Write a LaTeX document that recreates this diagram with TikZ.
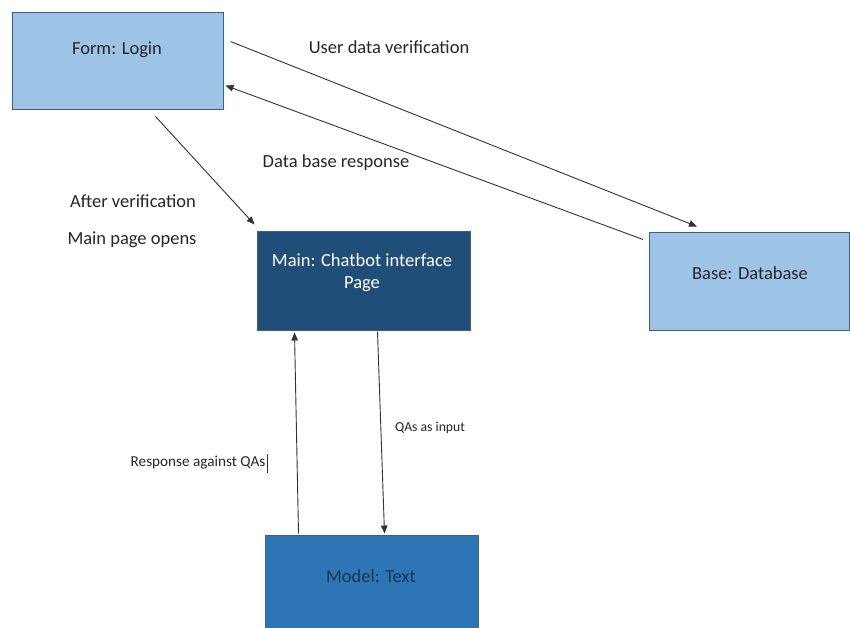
\documentclass[tikz,border=0pt]{standalone}
\usepackage{fontspec}
\setmainfont{Carlito}
\usetikzlibrary{arrows.meta,calc}
\definecolor{lightbox}{HTML}{9DC3E6}
\definecolor{darkbox}{HTML}{1F4E79}
\definecolor{midbox}{HTML}{2E75B6}
\definecolor{edgecol}{HTML}{3F5F7F}
\definecolor{txt}{HTML}{262626}
\begin{document}
\begin{tikzpicture}[x=1pt,y=-1pt,
  box/.style={draw=edgecol, line width=1pt, rectangle, inner sep=0pt},
  btext/.style={font=\fontsize{18.5}{22}\selectfont, inner sep=0pt, align=center},
  lbl/.style={font=\fontsize{18.5}{22}\selectfont, text=txt, inner sep=0pt},
  qlbl/.style={font=\fontsize{13.7}{16}\selectfont, text=txt, inner sep=0pt},
  rlbl/.style={font=\fontsize{15.2}{18}\selectfont, text=txt, inner sep=0pt},
  flow/.style={draw=black!80, line width=0.9pt, -{Triangle[length=8pt,width=6.5pt]}}]
\useasboundingbox (0,0) rectangle (850,627);
\clip (0,0) rectangle (850,627);
% boxes
\node[box, fill=lightbox, minimum width=211pt, minimum height=97pt] (login) at (117.5,60.5) {};
\node[box, fill=darkbox, minimum width=213pt, minimum height=99pt] (main) at (363.5,280.5) {};
\node[box, fill=lightbox, minimum width=200pt, minimum height=98pt] (base) at (749.5,281) {};
\node[box, fill=midbox, minimum width=213pt, minimum height=120pt] (model) at (371.5,595) {};
% box texts
\node[btext, text=txt] (logintxt) at (117,50) {Form: Login};
\node[btext, text=white] (maintxt) at (362,273) {Main: Chatbot interface\\Page};
\node[btext, text=txt] (basetxt) at (750,273) {Base: Database};
\node[btext, text=darkbox!70!black] (modeltxt) at (371,576) {Model: Text};
% connector ends
\coordinate (l2b) at ($(login.north east)+(7,30)$);
\coordinate (b2l) at ($(login.north east)+(2,74)$);
\coordinate (l2m) at ($(login.south)+(38,7)$);
\coordinate (mtop) at ($(main.north west)+(-2,-6)$);
\coordinate (btop) at ($(base.north west)+(48,-5)$);
\coordinate (bleft) at ($(base.north west)+(-6,8)$);
\coordinate (mbotl) at ($(main.south west)+(38,2)$);
\coordinate (mbotr) at ($(main.south west)+(121,1)$);
\coordinate (modl) at ($(model.north west)+(34,-1)$);
\coordinate (modr) at ($(model.north west)+(120,-1)$);
% connectors
\draw[flow] (l2b) -- (btop);
\draw[flow] (bleft) -- (b2l);
\draw[flow] (l2m) -- (mtop);
\draw[flow] (modl) -- (mbotl);
\draw[flow] (mbotr) -- (modr);
% labels
\node[lbl] (udv) at (389,47) {User data verification};
\node[lbl] (dbr) at (336,163) {Data base response};
\node[lbl] (afv) at (133,201) {After verification};
\node[lbl] (mpo) at (132,240) {Main page opens};
\node[qlbl] (qin) at (430,428) {QAs as input};
\node[rlbl] (raq) at (198,463) {Response against QAs};
\draw[black!80, line width=0.6pt] ($(raq.north east)+(1.5,-2)$) -- ($(raq.south east)+(1.5,3)$);
\end{tikzpicture}
\end{document}
